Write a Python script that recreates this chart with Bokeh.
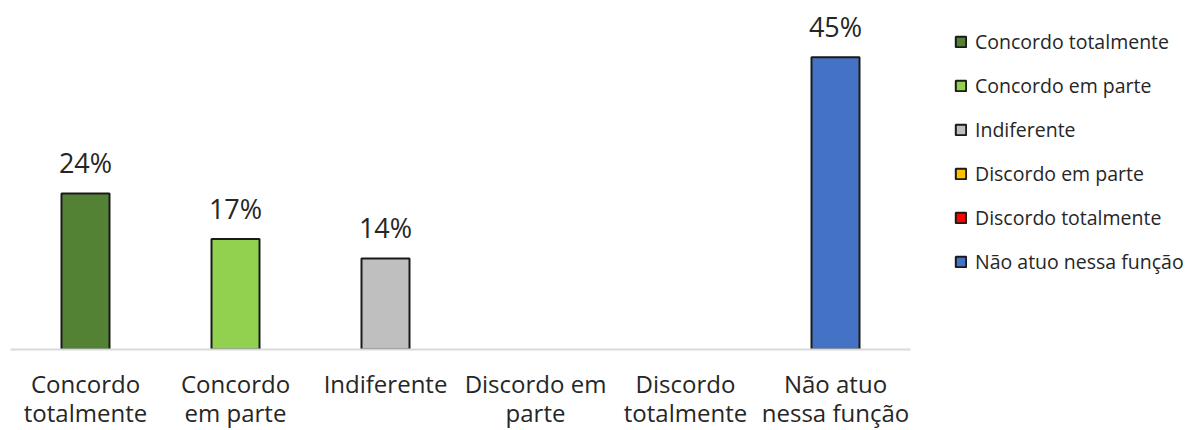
from bokeh.plotting import figure
from bokeh.layouts import column
from bokeh.models import (ColumnDataSource, CDSView, IndexFilter, BooleanFilter, Legend,
                          LegendItem, Range1d)
from bokeh.core.properties import value
from bokeh.embed import file_html
from bokeh.resources import INLINE

categories = ["Concordo totalmente", "Concordo em parte", "Indiferente",
              "Discordo em parte", "Discordo totalmente", "Não atuo nessa função"]
tick_labels = ["Concordo\ntotalmente", "Concordo\nem parte", "Indiferente",
               "Discordo em\nparte", "Discordo\ntotalmente", "Não atuo\nnessa função"]
values = [24, 17, 14, 0, 0, 45]
colors = ["#548235", "#92d050", "#bfbfbf", "#ffc000", "#ff0000", "#4472c4"]

FONT = "Open Sans"
TXT = "#262626"
BAR_W = 0.32

src = ColumnDataSource(dict(cat=categories, val=values, color=colors,
                            lab=[f"{v}%" for v in values]))

p = figure(x_range=categories, y_range=(0, 52.5), frame_width=900, frame_height=341,
           min_border_left=10, min_border_top=8, min_border_bottom=10, min_border_right=0,
           output_backend="svg", toolbar_location=None)

items = []
for i, c in enumerate(categories):
    # a zero-valued bar has no visible extent (its renderer still provides the legend swatch)
    r = p.vbar(x="cat", top="val", width=BAR_W if values[i] > 0 else 0, source=src,
               view=CDSView(filter=IndexFilter([i])),
               fill_color=colors[i], line_color="#1a1a1a", line_width=2)
    items.append(LegendItem(label=c, renderers=[r]))

nz = BooleanFilter([v > 0 for v in values])
p.text(x="cat", y="val", text="lab", source=src, view=CDSView(filter=nz),
       text_align="center", text_baseline="alphabetic", y_offset=-31,
       text_font=value(FONT), text_font_size="27px", text_color=TXT)

legend = Legend(items=items, location=(44, 74), orientation="vertical",
                label_text_font=FONT, label_text_font_size="19.5px", label_text_color=TXT,
                glyph_width=13, glyph_height=13, label_height=27, spacing=17,
                label_standoff=8, padding=0, margin=0,
                border_line_alpha=0, background_fill_alpha=0)
p.add_layout(legend, "right")

p.yaxis.visible = False
p.xgrid.grid_line_color = None
p.ygrid.grid_line_color = None
p.outline_line_color = None
p.x_range.range_padding = 0
p.xaxis.axis_line_color = "#d9d9d9"
p.xaxis.axis_line_width = 2
p.xaxis.major_tick_line_color = None
p.xaxis.minor_tick_line_color = None
p.xaxis.major_label_text_alpha = 0
p.xaxis.major_label_text_font_size = "0px"
p.xaxis.major_label_standoff = 0
p.xaxis.major_tick_out = 0
p.background_fill_color = "white"
p.border_fill_color = "white"

# category labels in a strip below, sharing the x range; y = line number
lx, ly, lt = [], [], []
for c, t in zip(categories, tick_labels):
    for k, line in enumerate(t.split("\n")):
        lx.append(c)
        ly.append(k)
        lt.append(line)
lsrc = ColumnDataSource(dict(x=lx, y=ly, t=lt))

p2 = figure(x_range=p.x_range, y_range=Range1d(1.62, -0.83), frame_width=900, height=71,
            min_border_left=10, min_border_top=0, min_border_bottom=0, min_border_right=0,
            output_backend="svg", toolbar_location=None)
p2.text(x="x", y="y", text="t", source=lsrc, text_align="center", text_baseline="middle",
        text_font=value(FONT), text_font_size="24px", text_color=TXT)
p2.xaxis.visible = False
p2.yaxis.visible = False
p2.xgrid.grid_line_color = None
p2.ygrid.grid_line_color = None
p2.outline_line_color = None
p2.background_fill_color = "white"
p2.border_fill_color = "white"

layout = column(p, p2, spacing=0)
open("out.html", "w").write(file_html(layout, INLINE))
